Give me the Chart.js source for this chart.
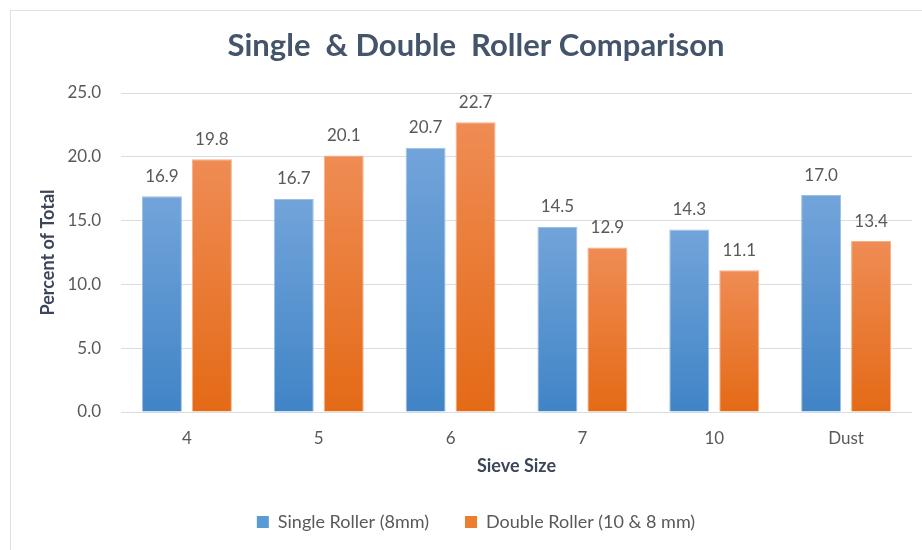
<!DOCTYPE html>
<html>
<head>
<meta charset="utf-8">
<script src="https://cdn.jsdelivr.net/npm/chart.js@4/dist/chart.umd.min.js"></script>
<style>
    html, body { margin: 0; padding: 0; background: #fff; overflow: hidden; }
    #wrap { position: relative; width: 922px; height: 550px; }
    #frame { position: absolute; left: 10px; top: 10px; width: 940px; height: 560px; border: 1.5px solid #dde2ea; box-sizing: border-box; }
    canvas { position: absolute; left: 0; top: 0; }
</style>
</head>
<body>
<div id="wrap">
    <div id="frame"></div>
    <canvas id="chart1" width="922" height="550"></canvas>
</div>
<script>
    const sieveSizes = ['4', '5', '6', '7', '10', 'Dust'];
    const singleRoller = [16.9, 16.7, 20.7, 14.5, 14.3, 17.0];
    const doubleRoller = [19.8, 20.1, 22.7, 12.9, 11.1, 13.4];

    Chart.defaults.font.family = 'Lato';
    Chart.defaults.color = '#595959';

    // lighter at the top of each bar, darker at its base
    function barFill(light, dark) {
        return ctx => {
            const chart = ctx.chart;
            if (!chart.chartArea || ctx.type !== 'data') return dark;
            const y = chart.scales.y;
            const top = y.getPixelForValue(ctx.raw);
            const base = y.getPixelForValue(0);
            if (!isFinite(top) || !isFinite(base) || top === base) return dark;
            const g = chart.ctx.createLinearGradient(0, top, 0, base);
            g.addColorStop(0, light);
            g.addColorStop(1, dark);
            return g;
        };
    }

    const valueLabels = {
        id: 'valueLabels',
        afterDatasetsDraw(chart) {
            const ctx = chart.ctx;
            ctx.save();
            ctx.font = '17px Lato';
            ctx.fillStyle = '#595959';
            ctx.textAlign = 'center';
            ctx.textBaseline = 'middle';
            chart.data.datasets.forEach((ds, i) => {
                chart.getDatasetMeta(i).data.forEach((bar, j) => {
                    ctx.fillText(ds.data[j].toFixed(1), bar.x, bar.y - 20);
                });
            });
            ctx.restore();
        }
    };

    const data = {
        labels: sieveSizes,
        datasets: [
            {
                label: 'Single Roller (8mm)',
                data: singleRoller,
                backgroundColor: barFill('#72a4da', '#4084c6'),
                borderColor: '#9cc0e6',
                borderWidth: 1,
                legendColor: '#5b9bd5'
            },
            {
                label: 'Double Roller (10 & 8 mm)',
                data: doubleRoller,
                backgroundColor: barFill('#ef8c54', '#e46a16'),
                borderColor: '#f4b08a',
                borderWidth: 1,
                legendColor: '#ed7d31'
            }
        ]
    };

    const options = {
        responsive: false,
        animation: false,
        categoryPercentage: 0.758,
        barPercentage: 0.8,
        layout: {
            padding: { left: 40, right: 10, top: 0, bottom: 9 }
        },
        plugins: {
            title: {
                display: true,
                text: 'Single  & Double  Roller Comparison',
                color: '#44546a',
                font: { size: 31, weight: 'bold' },
                padding: { top: 27, bottom: 28.8 }
            },
            legend: {
                position: 'bottom',
                labels: {
                    boxWidth: 12,
                    boxHeight: 12,
                    padding: 36,
                    color: '#595959',
                    font: { size: 18 },
                    generateLabels(chart) {
                        return Chart.defaults.plugins.legend.labels.generateLabels(chart).map(item => {
                            const color = chart.data.datasets[item.datasetIndex].legendColor;
                            item.fillStyle = color;
                            item.strokeStyle = color;
                            item.lineWidth = 0;
                            return item;
                        });
                    }
                }
            },
            tooltip: { enabled: false }
        },
        scales: {
            x: {
                grid: { display: false },
                border: { display: false },
                ticks: { padding: 8, font: { size: 17 } },
                title: {
                    display: true,
                    text: 'Sieve Size',
                    color: '#3b4658',
                    font: { size: 18, weight: 'bold' },
                    padding: { top: 0, bottom: 0.2 }
                },
                afterFit(scale) { scale.height = 65; }
            },
            y: {
                min: 0,
                max: 25,
                grid: { color: '#d9dce1', lineWidth: 1, drawTicks: false },
                border: { display: false },
                ticks: {
                    stepSize: 5,
                    padding: 20,
                    font: { size: 17 },
                    callback: value => value.toFixed(1)
                },
                title: {
                    display: true,
                    text: 'Percent of Total',
                    color: '#3b4658',
                    font: { size: 18, weight: 'bold' },
                    padding: { top: -2.8, bottom: 0 }
                },
                afterFit(scale) { scale.width = 81; }
            }
        }
    };

    new Chart('chart1', { type: 'bar', data, options, plugins: [valueLabels] });
</script>
</body>
</html>
